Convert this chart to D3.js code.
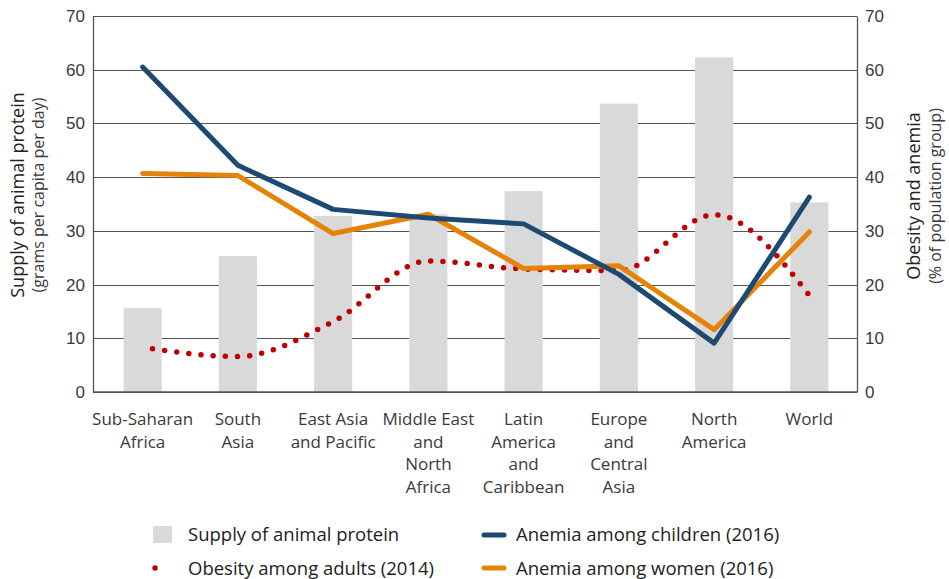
<!DOCTYPE html>
<html>
<head>
<meta charset="utf-8">
<script src="https://cdn.jsdelivr.net/npm/d3@7"></script>
<style>
  body { margin: 0; background: #fff; }
  svg { font-family: "Open Sans", "Noto Sans", sans-serif; }
  .tick text { fill: #3a3a3a; font-size: 17px; }
</style>
</head>
<body>
<div class="grafico"></div>
<script>
var width = 949, height = 579;
var margin = { top: 16, right: 92, bottom: 187, left: 93 };

// data
var regiones = [
  ["Sub-Saharan", "Africa"],
  ["South", "Asia"],
  ["East Asia", "and Pacific"],
  ["Middle East", "and", "North", "Africa"],
  ["Latin", "America", "and", "Caribbean"],
  ["Europe", "and", "Central", "Asia"],
  ["North", "America"],
  ["World"]
];
var proteina = [15.6, 25.3, 32.8, 33.1, 37.4, 53.7, 62.3, 35.3];
var anemiaNinos = [60.5, 42.2, 34.0, 32.4, 31.3, 21.9, 9.1, 36.3];
var anemiaMujeres = [40.7, 40.3, 29.5, 33.1, 23.0, 23.5, 11.6, 29.8];
var obesidad = [8.3, 6.6, 13.1, 24.4, 22.9, 22.6, 33.0, 18.0];
var ticks = [0, 10, 20, 30, 40, 50, 60, 70];

var colors = {
  bar: "#d9d9d9",
  ninos: "#1d4a72",
  mujeres: "#e58208",
  obesidad: "#c00000"
};

var svg = d3.select(".grafico").append("svg")
  .attr("width", width)
  .attr("height", height);

var x = d3.scaleBand()
  .domain(d3.range(regiones.length))
  .range([95, width - margin.right])
  .paddingInner(0.6)
  .paddingOuter(0.3);

var y = d3.scaleLinear()
  .domain([0, 70])
  .range([392, margin.top]);

var cx = function (i) { return x(i) + x.bandwidth() / 2; };

// grid lines
svg.append("g")
  .selectAll("line")
  .data(ticks)
  .enter().append("line")
  .attr("x1", margin.left)
  .attr("x2", width - margin.right)
  .attr("y1", d => Math.round(y(d)) + 0.5)
  .attr("y2", d => Math.round(y(d)) + 0.5)
  .attr("stroke", "#555")
  .attr("stroke-width", 1);

// bars
svg.append("g")
  .selectAll("rect")
  .data(proteina)
  .enter().append("rect")
  .attr("x", (d, i) => x(i))
  .attr("width", x.bandwidth())
  .attr("y", d => y(d))
  .attr("height", d => y(0) - y(d))
  .attr("fill", colors.bar);

// axes
var yLeft = svg.append("g")
  .attr("transform", "translate(" + margin.left + ",0)")
  .call(d3.axisLeft(y).tickValues(ticks).tickSize(0).tickPadding(8));
var yRight = svg.append("g")
  .attr("transform", "translate(" + (width - margin.right) + ",0)")
  .call(d3.axisRight(y).tickValues(ticks).tickSize(0).tickPadding(8));
[yLeft, yRight].forEach(function (g) {
  g.select(".domain").attr("stroke", "#555").attr("stroke-width", 1.3);
  g.selectAll("text").style("font-family", "inherit");
});

// bottom axis line
svg.append("line")
  .attr("x1", margin.left).attr("x2", width - margin.right)
  .attr("y1", y(0)).attr("y2", y(0))
  .attr("stroke", "#555").attr("stroke-width", 1.5);

// lines
var linea = d3.line()
  .x((d, i) => cx(i))
  .y(d => y(d));

svg.append("path")
  .datum(obesidad)
  .attr("d", linea.curve(d3.curveMonotoneX))
  .attr("fill", "none")
  .attr("stroke", colors.obesidad)
  .attr("stroke-width", 5.5)
  .attr("stroke-linecap", "round")
  .attr("stroke-dasharray", "0,12.2")
  .attr("stroke-dashoffset", -10);

linea.curve(d3.curveLinear);

svg.append("path")
  .datum(anemiaMujeres)
  .attr("d", linea)
  .attr("fill", "none")
  .attr("stroke", colors.mujeres)
  .attr("stroke-width", 5)
  .attr("stroke-linecap", "round")
  .attr("stroke-linejoin", "round");

svg.append("path")
  .datum(anemiaNinos)
  .attr("d", linea)
  .attr("fill", "none")
  .attr("stroke", colors.ninos)
  .attr("stroke-width", 5)
  .attr("stroke-linecap", "round")
  .attr("stroke-linejoin", "round");

// category labels
svg.append("g")
  .selectAll("text")
  .data(regiones)
  .enter().append("text")
  .attr("x", (d, i) => cx(i))
  .attr("y", 425)
  .attr("text-anchor", "middle")
  .attr("fill", "#3a3a3a")
  .style("font-size", "17px")
  .each(function (d) {
    var t = d3.select(this);
    d.forEach(function (line, k) {
      t.append("tspan")
        .attr("x", t.attr("x"))
        .attr("dy", k === 0 ? 0 : 22.5)
        .text(line);
    });
  });

// axis titles
var tituloIzq = svg.append("text")
  .attr("transform", "translate(24,195) rotate(-90)")
  .attr("text-anchor", "middle")
  .attr("fill", "#222");
tituloIzq.append("tspan").attr("x", 0).style("font-size", "18px").text("Supply of animal protein");
tituloIzq.append("tspan").attr("x", 0).attr("dy", 20).style("font-size", "16px").attr("fill", "#3a3a3a").text("(grams per capita per day)");

var tituloDer = svg.append("text")
  .attr("transform", "translate(920,196) rotate(-90)")
  .attr("text-anchor", "middle")
  .attr("fill", "#222");
tituloDer.append("tspan").attr("x", 0).style("font-size", "18px").text("Obesity and anemia");
tituloDer.append("tspan").attr("x", 0).attr("dy", 21).style("font-size", "16px").attr("fill", "#3a3a3a").text("(% of population group)");

// legend
var ley = svg.append("g").style("font-size", "18.5px").attr("fill", "#222");

ley.append("rect")
  .attr("x", 153).attr("y", 526).attr("width", 19).attr("height", 17)
  .attr("fill", colors.bar);
ley.append("text").attr("x", 188).attr("y", 541).text("Supply of animal protein");

ley.append("path")
  .attr("d", "M155,568L169,568")
  .attr("stroke", colors.obesidad)
  .attr("stroke-width", 5.5)
  .attr("stroke-linecap", "round")
  .attr("stroke-dasharray", "0,14");
ley.append("text").attr("x", 188).attr("y", 575).text("Obesity among adults (2014)");

ley.append("line")
  .attr("x1", 484).attr("x2", 504).attr("y1", 535).attr("y2", 535)
  .attr("stroke", colors.ninos).attr("stroke-width", 5).attr("stroke-linecap", "round");
ley.append("text").attr("x", 516).attr("y", 541).text("Anemia among children (2016)");

ley.append("line")
  .attr("x1", 484).attr("x2", 504).attr("y1", 568).attr("y2", 568)
  .attr("stroke", colors.mujeres).attr("stroke-width", 5).attr("stroke-linecap", "round");
ley.append("text").attr("x", 516).attr("y", 575).text("Anemia among women (2016)");
</script>
</body>
</html>
